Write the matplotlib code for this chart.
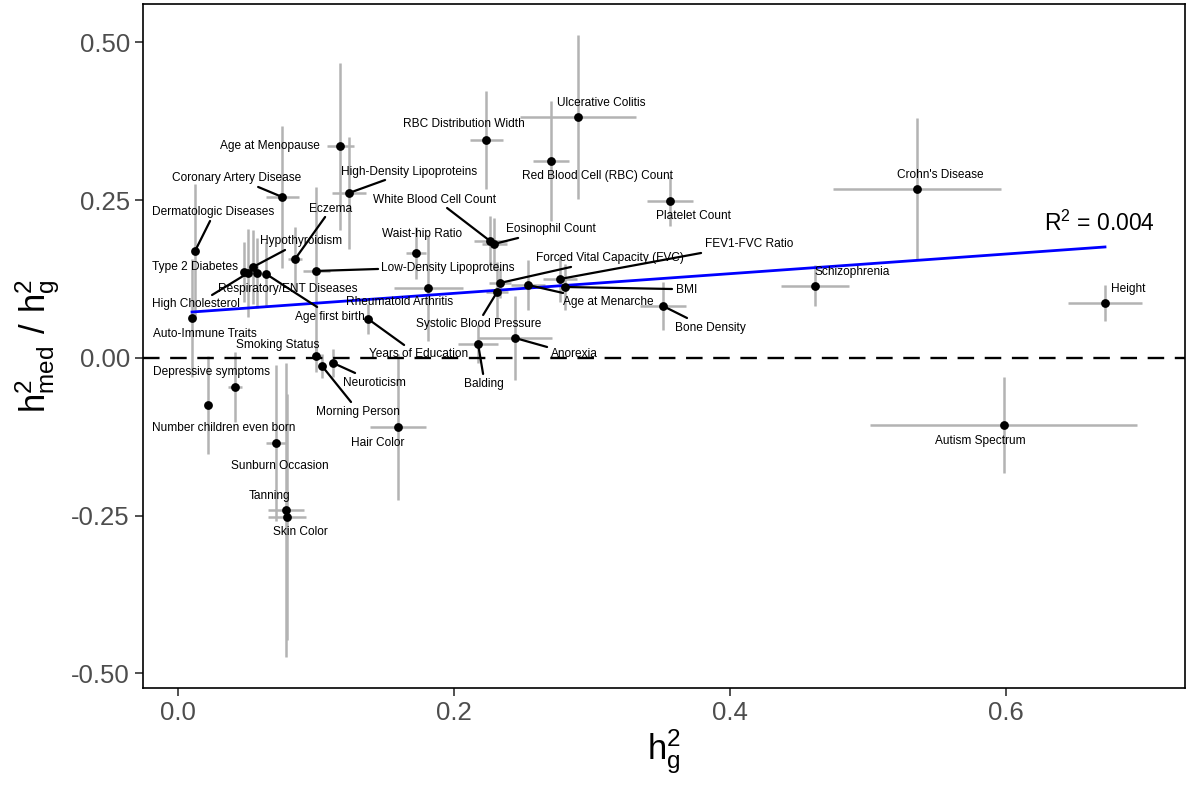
import numpy as np
import matplotlib
matplotlib.use("Agg")
import matplotlib.pyplot as plt

plt.rcParams['font.family'] = ['Liberation Sans', 'DejaVu Sans']

# trait, h2g, h2med/h2g, and the two standard errors
traits = [
    "Age at Menopause", "High-Density Lipoproteins", "Coronary Artery Disease",
    "Dermatologic Diseases", "Type 2 Diabetes", "High Cholesterol",
    "Hypothyroidism", "Respiratory/ENT Diseases", "Age first birth",
    "Auto-Immune Traits", "Eczema", "Low-Density Lipoproteins",
    "Waist-hip Ratio", "Rheumatoid Arthritis", "Years of Education",
    "Smoking Status", "Neuroticism", "Morning Person", "Hair Color",
    "Depressive symptoms", "Number children even born", "Sunburn Occasion",
    "Tanning", "Skin Color", "RBC Distribution Width", "Ulcerative Colitis",
    "Red Blood Cell (RBC) Count", "Platelet Count", "White Blood Cell Count",
    "Eosinophil Count", "Forced Vital Capacity (FVC)", "Systolic Blood Pressure",
    "Age at Menarche", "FEV1-FVC Ratio", "BMI", "Bone Density", "Balding",
    "Anorexia", "Crohn's Disease", "Schizophrenia", "Height", "Autism Spectrum",
]
h2g = [0.1174, 0.1239, 0.0754, 0.0123, 0.0478, 0.0507, 0.0543, 0.0572, 0.0638,
       0.0101, 0.0848, 0.1000, 0.1725, 0.1812, 0.1377, 0.1000, 0.1123, 0.1043,
       0.1594, 0.0413, 0.0217, 0.0710, 0.0783, 0.0790, 0.2232, 0.2899, 0.2703,
       0.3565, 0.2261, 0.2290, 0.2333, 0.2312, 0.2536, 0.2768, 0.2804, 0.3514,
       0.2174, 0.2442, 0.5355, 0.4614, 0.6717, 0.5983]
ratio = [0.3352, 0.2615, 0.2552, 0.1696, 0.1363, 0.1347, 0.1442, 0.1347, 0.1331,
         0.0634, 0.1569, 0.1379, 0.1664, 0.1109, 0.0618, 0.0032, -0.0079, -0.0127,
         -0.1094, -0.0460, -0.0745, -0.1347, -0.2409, -0.2520, 0.3455, 0.3819,
         0.3122, 0.2488, 0.1854, 0.1807, 0.1189, 0.1046, 0.1157, 0.1252, 0.1125,
         0.0824, 0.0222, 0.0317, 0.2678, 0.1141, 0.0872, -0.1062]
h2g_se = [0.0098, 0.0123, 0.0120, 0.0020, 0.0020, 0.0020, 0.0020, 0.0020, 0.0020,
          0.0020, 0.0050, 0.0098, 0.0070, 0.0250, 0.0030, 0.0030, 0.0030, 0.0030,
          0.0200, 0.0050, 0.0020, 0.0070, 0.0130, 0.0140, 0.0120, 0.0420, 0.0130,
          0.0170, 0.0120, 0.0090, 0.0080, 0.0080, 0.0120, 0.0120, 0.0030, 0.0170,
          0.0145, 0.0270, 0.0612, 0.0246, 0.0268, 0.0968]
ratio_se = [0.132, 0.089, 0.112, 0.106, 0.0475, 0.070, 0.058, 0.055, 0.050,
            0.094, 0.050, 0.133, 0.041, 0.084, 0.024, 0.025, 0.022, 0.019,
            0.115, 0.056, 0.077, 0.124, 0.233, 0.195, 0.078, 0.130,
            0.095, 0.040, 0.040, 0.041, 0.024, 0.048, 0.039, 0.036, 0.037,
            0.038, 0.030, 0.066, 0.1125, 0.0325, 0.028, 0.076]

# fitted line and its R^2
fit_slope = 0.1558
fit_intercept = 0.0713
fit_r2 = "0.004"

# label offsets (pixels) and optional leader-line ends (pixels)
label_off = [(-70, 0), (60, 21), (-46, 19), (18, 39), (-49, 5), (-52, -31),
             (48, 26), (31, -16), (64, -43), (13, -16), (35, 50), (132, 3),
             (6, 19), (-29, -14), (50, -35), (-38, 11), (41, -20), (36, -46),
             (-20, -16), (-24, 15), (16, -23), (4, -23), (-17, 14), (13, -15),
             (-22, 16), (23, 14), (46, -15), (23, -15), (-56, 41), (57, 15),
             (110, 25), (-18, -32), (80, -17), (189, 35), (122, -3), (47, -22),
             (6, -40), (59, -16), (23, 14), (37, 14), (23, 14), (-23, -16)]
seg_end = [None, (36, 13), (-24, 10), (15, 30), None, (-36, -22),
           (32, 17), None, (51, -33), None, (30, 42), (62, 2),
           None, None, (36, -26), None, (22, -10), (29, -36),
           None, None, None, None, None, None,
           None, None, None, None, (-43, 33), (24, 6),
           (71, 16), (-14, -23), (35, -8), (141, 26), (107, -2), (24, -12),
           (5, -30), (32, -9), None, None, None, None]

fig = plt.figure(figsize=(11.88, 7.86), dpi=100)
ax = fig.add_axes([0.1204, 0.1247, 0.8771, 0.8702])

ax.errorbar(h2g, ratio, xerr=h2g_se, yerr=ratio_se, fmt='none',
            ecolor='#b3b3b3', elinewidth=1.8, capsize=0, zorder=1)
ax.axhline(0, color='black', lw=1.7, ls=(0, (7, 4.5)), zorder=2)

xs = np.array([min(h2g), max(h2g)])
ax.plot(xs, fit_intercept + fit_slope * xs, color='blue', lw=2, zorder=3)

for i, name in enumerate(traits):
    if seg_end[i] is not None:
        ax.annotate('', xy=(h2g[i], ratio[i]), xytext=seg_end[i],
                    textcoords='offset pixels',
                    arrowprops=dict(arrowstyle='-', color='black', lw=1.6,
                                    shrinkA=0, shrinkB=0), zorder=4)
    ax.annotate(name, xy=(h2g[i], ratio[i]), xytext=label_off[i],
                textcoords='offset pixels', ha='center', va='center',
                fontsize=8.6, color='black', zorder=5)

ax.scatter(h2g, ratio, s=40, color='black', zorder=6, linewidths=0)

ax.text(0.668, 0.214, r'$\mathregular{R^2}$ = ' + fit_r2, fontsize=16.5,
        ha='center', va='center')

ax.set_xlim(-0.0254, 0.7297)
ax.set_ylim(-0.523, 0.561)
ax.set_xticks([0.0, 0.2, 0.4, 0.6])
ax.set_xticklabels(['0.0', '0.2', '0.4', '0.6'])
ax.set_yticks([-0.5, -0.25, 0, 0.25, 0.5])
ax.set_yticklabels(['-0.50', '-0.25', '0.00', '0.25', '0.50'])
ax.tick_params(labelsize=18.5, labelcolor='#4d4d4d', length=6, width=1.2,
               color='#333333')
for sp in ax.spines.values():
    sp.set_linewidth(1.2)

ax.set_xlabel(r'$\mathregular{h^2_g}$', fontsize=25, labelpad=2)
ax.set_ylabel(r'$\mathregular{h^2_{med}\ /\ h^2_g}$', fontsize=25,
              labelpad=6)

fig.savefig('out.png', dpi=100)
